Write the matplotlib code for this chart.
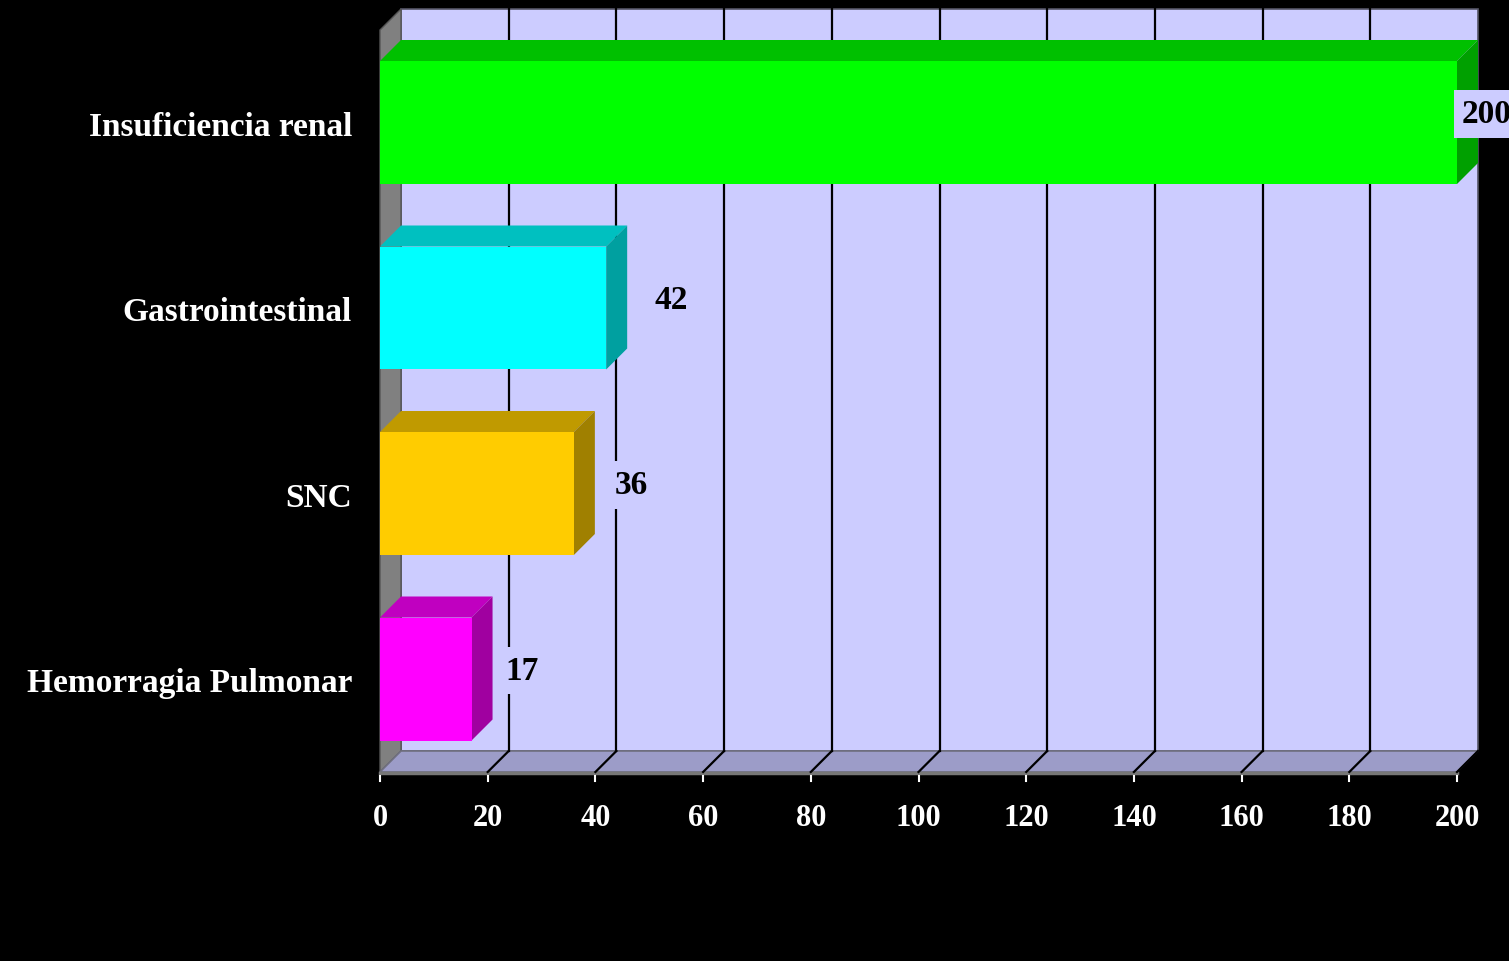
import numpy as np
import matplotlib.pyplot as plt
from matplotlib.patches import Polygon

categorias = ["Insuficiencia renal", "Gastrointestinal", "SNC", "Hemorragia Pulmonar"]
valores = [200, 42, 36, 17]
ticks = [0, 20, 40, 60, 80, 100, 120, 140, 160, 180, 200]

col_frente = ["#00FF00", "#00FFFF", "#FFCC00", "#FF00FF"]
col_arriba = ["#00C000", "#00C0C0", "#C09A00", "#C000C0"]
col_lado = ["#00A000", "#00A0A0", "#A08000", "#A000A0"]
# desplazamiento horizontal de cada etiqueta de valor (borde izquierdo)
desp_etiq = [0.9, 8.9, 7.6, 6.2]

plt.rcParams['font.family'] = ['Liberation Serif', 'DejaVu Serif']

fig = plt.figure(figsize=(15.09, 9.62), dpi=100, facecolor="black")
ax = fig.add_axes([0, 0, 1, 1])
ax.set_facecolor("black")

# escala: 0 -> px 380, 200 -> px 1457 ; categorias separadas 185.5 px
ppx = 200 / 1077
ax.set_xlim(-380 * ppx, (1509 - 380) * ppx)
ax.set_ylim((962 - 123.5) / 185.5, -123.5 / 185.5)
ax.axis("off")

dx = 21 * ppx
dy = -21 / 185.5
alto = 123 / 185.5
piso = (773 - 123.5) / 185.5
techo = (10 - 123.5) / 185.5
xmax = ticks[-1]

# pared del fondo
ax.add_patch(Polygon([(dx, techo), (xmax + dx, techo), (xmax + dx, piso + dy), (dx, piso + dy)],
                     closed=True, fc="#CCCCFF", ec="#555566", lw=1.2, zorder=1))
# pared izquierda
ax.add_patch(Polygon([(0, techo - dy), (dx, techo), (dx, piso + dy), (0, piso)],
                     closed=True, fc="#808080", ec="#555555", lw=1, zorder=1))
# piso
ax.add_patch(Polygon([(0, piso), (xmax, piso), (xmax + dx, piso + dy), (dx, piso + dy)],
                     closed=True, fc="#9C9CC8", ec="#707080", lw=1.2, zorder=1))
ax.plot([0, xmax], [piso + 0.008, piso + 0.008], color="#777777", lw=2.5, zorder=1.5)

# lineas de cuadricula
for t in ticks[1:-1]:
    ax.plot([t + dx, t + dx], [techo, piso + dy], color="black", lw=1.6, zorder=2)
for t in ticks[1:]:
    ax.plot([t, t + dx], [piso, piso + dy], color="black", lw=1.6, zorder=2)

# marcas y etiquetas del eje
for t in ticks:
    ax.plot([t, t], [piso + 0.02, piso + 0.05], color="white", lw=1.5, zorder=3)
    ax.text(t, piso + 0.245, str(t), color="white", fontsize=22, fontweight="bold",
            ha="center", va="center", zorder=3)

# barras
pos = np.arange(len(valores))
ax.barh(pos, valores, height=alto, color=col_frente, zorder=5)
for i, v in enumerate(valores):
    y0 = pos[i] - alto / 2
    y1 = pos[i] + alto / 2
    ax.add_patch(Polygon([(0, y0), (v, y0), (v + dx, y0 + dy), (dx, y0 + dy)],
                         closed=True, fc=col_arriba[i], ec="none", zorder=4))
    ax.add_patch(Polygon([(v, y0), (v + dx, y0 + dy), (v + dx, y1 + dy), (v, y1)],
                         closed=True, fc=col_lado[i], ec="none", zorder=4))
    ax.text(v + desp_etiq[i], pos[i] + dy / 2 + 0.01, str(v), color="black",
            fontsize=24, fontweight="bold", ha="left", va="center", zorder=6,
            bbox=dict(boxstyle="square,pad=0.25", fc="#CCCCFF", ec="none"))
    ax.text(-5.2, pos[i] + 0.02, categorias[i], color="white", fontsize=24, fontweight="bold",
            ha="right", va="center", zorder=6)

fig.savefig("out.png", dpi=100, facecolor="black")
